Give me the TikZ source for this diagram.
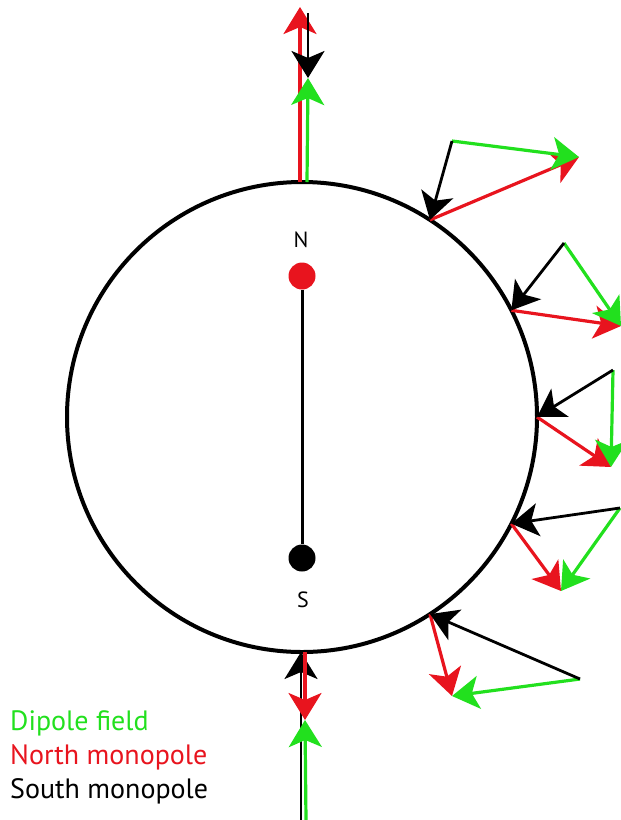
\documentclass[tikz,border=0pt]{standalone}
\usepackage{fontspec}
\setmainfont{PT Sans}
\usetikzlibrary{arrows.meta}
\definecolor{fieldgreen}{HTML}{22E01E}
\definecolor{monored}{HTML}{E8141E}

\begin{document}
\begin{tikzpicture}[
    x=1pt, y=-1pt,
    every node/.style={font=\fontsize{22}{26}\selectfont},
    tip/.style={-{Stealth[length=27pt, width=33pt, inset=7pt]}},
    dipole/.style={tip, fieldgreen, line width=3.2pt},
    north/.style={tip, monored, line width=3.2pt},
    south/.style={tip, black, line width=2.8pt},
    pole/.style={circle, minimum size=27pt, inner sep=0pt},
    legend/.style={anchor=west, font=\fontsize{28}{32}\selectfont, inner sep=0pt},
]
\useasboundingbox (0,0) rectangle (621,820);
\node[draw, circle, line width=4pt, minimum size=470pt, outer sep=0pt] (sphere) at (302,417) {};
\node[pole, fill=monored] (npole) at (302,276) {};
\node[pole, fill=black] (spole) at (302,558) {};
\draw[line width=3pt] (npole) -- (spole);
\node (nlabel) at (301,240) {N};
\node (slabel) at (303,600) {S};
% top of the axis
\coordinate (topred) at (300,7);
\coordinate (topblack) at (308,13);
\coordinate (topmeet) at (308,78);
\draw[north] ([xshift=-2pt]sphere.north) -- (topred);
\draw[south] (topblack) -- (topmeet);
\draw[dipole] ([xshift=5pt]sphere.north) -- (topmeet);
% bottom of the axis
\coordinate (botblack) at (301,820);
\coordinate (botgreen) at (306,820);
\coordinate (botmeet) at (305,720);
\draw[south] (botblack) -- ([xshift=-1pt]sphere.south);
\draw[north] ([xshift=3pt]sphere.south) -- (botmeet);
\draw[dipole] (botgreen) -- (botmeet);
% field at the side
\coordinate (q1) at (452,141); \coordinate (r1) at (579,157);
\coordinate (q2) at (564,243); \coordinate (r2) at (621,326);
\coordinate (q3) at (613,370); \coordinate (r3) at (611,467);
\coordinate (q4) at (620,508); \coordinate (r4) at (561,591);
\coordinate (q5) at (580,679); \coordinate (r5) at (452,696);
\foreach \a/\i in {57.5/1, 27.5/2, 0/3, -27.5/4, -57.5/5} {
  \draw[north] (sphere.\a) -- (r\i);
  \draw[dipole] (q\i) -- (r\i);
  \draw[south] (q\i) -- (sphere.\a);
}
\node[legend, fieldgreen] (ldipole) at (10,723) {Dipole field};
\node[legend, monored] (lnorth) at (10,757) {North monopole};
\node[legend] (lsouth) at (10,791) {South monopole};
\end{tikzpicture}
\end{document}
